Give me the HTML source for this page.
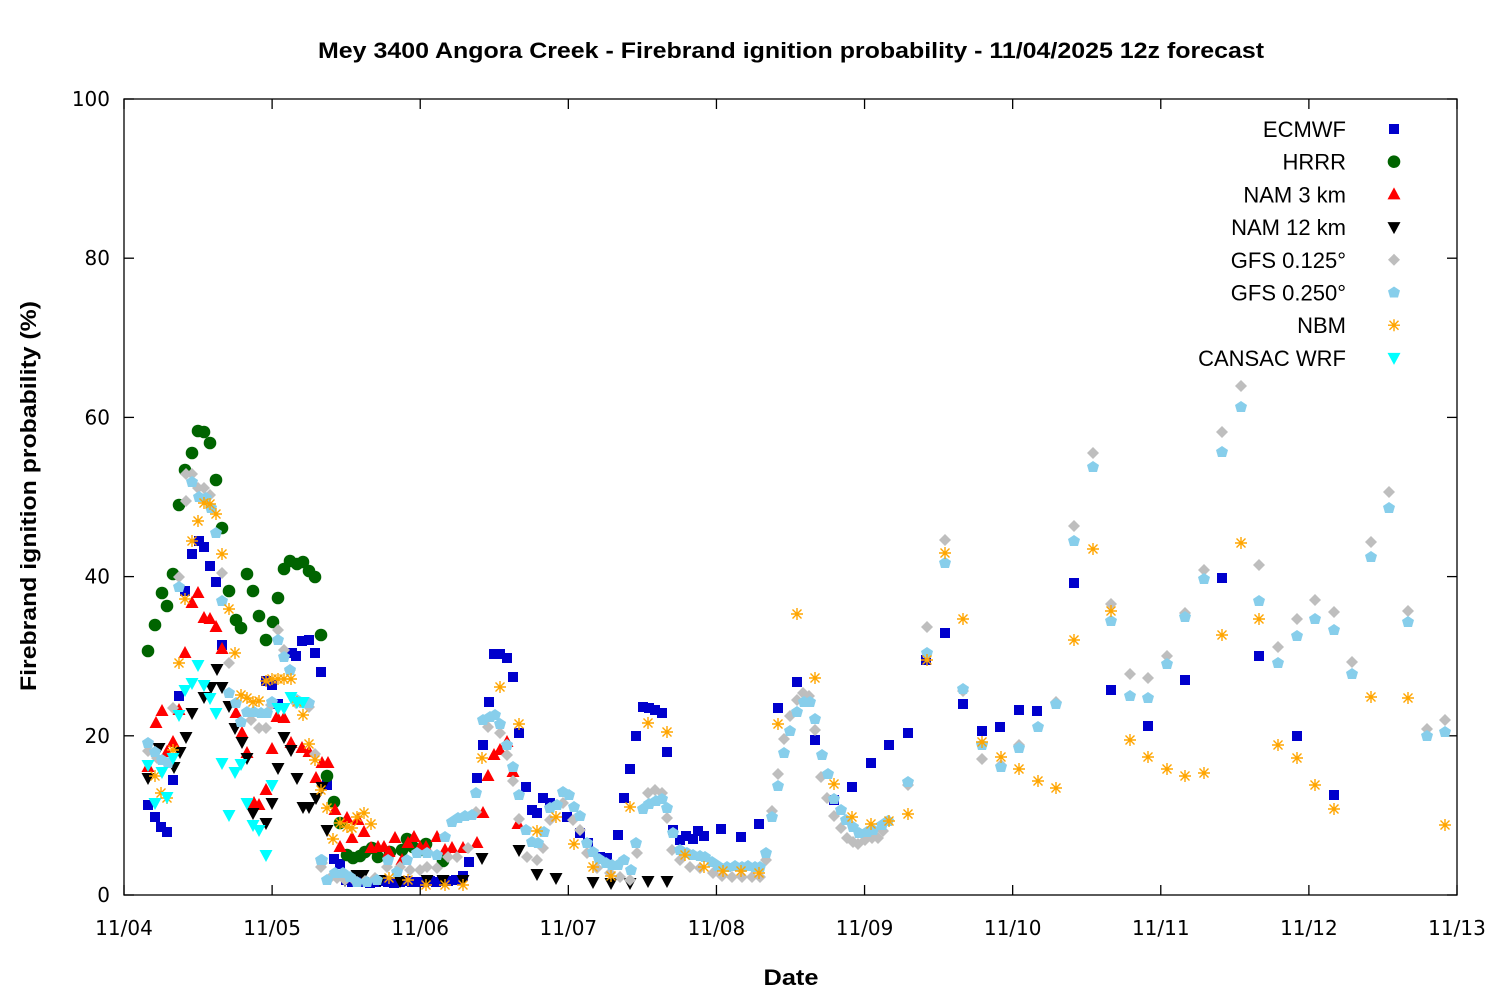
<!DOCTYPE html>
<html><head><meta charset="utf-8"><style>body{margin:0;background:#fff}svg{display:block}text{font-family:"Liberation Sans","DejaVu Sans",sans-serif}#lab text{font-family:"DejaVu Sans",sans-serif}</style></head>
<body>
<svg id="s" width="1500" height="1000" xmlns="http://www.w3.org/2000/svg">
<rect width="1500" height="1000" fill="#fff"/>
<text x="791" y="58" text-anchor="middle" font-size="22" font-weight="bold" textLength="946" lengthAdjust="spacingAndGlyphs">Mey 3400 Angora Creek - Firebrand ignition probability - 11/04/2025 12z forecast</text>
<g id="ax" stroke="#000" stroke-width="1.3" fill="none"></g>
<g id="lab" font-size="20" fill="#000"></g>
<text x="791" y="985" text-anchor="middle" font-size="22" font-weight="bold" textLength="55" lengthAdjust="spacingAndGlyphs">Date</text>
<text transform="translate(36,496) rotate(-90)" text-anchor="middle" font-size="22" font-weight="bold" textLength="390" lengthAdjust="spacingAndGlyphs">Firebrand ignition probability (%)</text>
<g id="pts"></g>
<g id="leg" font-size="22"></g>
</svg>
<script>
var NS="http://www.w3.org/2000/svg";
function el(p,t,a,txt){var e=document.createElementNS(NS,t);for(var k in a)e.setAttribute(k,a[k]);if(txt)e.textContent=txt;document.getElementById(p).appendChild(e);return e;}
var L=124,R=1457,T=99,B=895;
el("ax","rect",{x:L,y:T,width:R-L,height:B-T});
for(var i=0;i<=5;i++){var y=B-i*(B-T)/5;el("ax","line",{x1:L,y1:y,x2:L+10,y2:y});el("ax","line",{x1:R,y1:y,x2:R-10,y2:y});el("lab","text",{x:110,y:y+7,"text-anchor":"end"},String(i*20));}
for(var d=0;d<=9;d++){var x=L+d*(R-L)/9;el("ax","line",{x1:x,y1:B,x2:x,y2:B-10});el("ax","line",{x1:x,y1:T,x2:x,y2:T+10});el("lab","text",{x:x,y:935,"text-anchor":"middle"},"11/"+String(4+d).padStart(2,"0"));}
function mk(p,type,x,y){
 if(type=="sq")el(p,"rect",{x:x-5,y:y-5,width:10,height:10,fill:"#0000cc"});
 else if(type=="ci")el(p,"circle",{cx:x,cy:y,r:6.3,fill:"#006400"});
 else if(type=="up")el(p,"polygon",{points:(x)+","+(y-7)+" "+(x+6.5)+","+(y+5)+" "+(x-6.5)+","+(y+5),fill:"#ff0000"});
 else if(type=="dn"||type=="cy")el(p,"polygon",{points:(x)+","+(y+7)+" "+(x+6.5)+","+(y-5)+" "+(x-6.5)+","+(y-5),fill:type=="dn"?"#000":"#00ffff"});
 else if(type=="di")el(p,"polygon",{points:x+","+(y-6)+" "+(x+6)+","+y+" "+x+","+(y+6)+" "+(x-6)+","+y,fill:"#bebebe"});
 else if(type=="pe")el(p,"polygon",{points:x+","+(y-6)+" "+(x+6)+","+(y-2)+" "+(x+4)+","+(y+5)+" "+(x-4)+","+(y+5)+" "+(x-6)+","+(y-2),fill:"#87ceeb"});
 else if(type=="st"){var g=el(p,"g",{stroke:"#ffa500","stroke-width":1.4});var s="M"+(x-6)+" "+y+"h12M"+x+" "+(y-6)+"v12M"+(x-4.5)+" "+(y-4.5)+"l9 9M"+(x-4.5)+" "+(y+4.5)+"l9 -9";var q=document.createElementNS(NS,"path");q.setAttribute("d",s);g.appendChild(q);}
}
var D={
sq:"148,805 155,817 161,827 167,832 173,780 179,696 185,591 192,554 199,541 204,547 210,566 216,582 222,645 266,681 272,685 278,704 292,653 296,656 302,641 309,640 315,653 321,672 327,785 334,859 340,864 346,880 352,882 358,881 364,882 370,883 376,882 382,881 388,882 394,883 400,882 406,881 412,882 418,882 424,882 430,881 436,882 442,881 448,881 456,880 463,876 469,862 477,778 483,745 489,702 494,654 500,654 507,658 513,677 519,733 526,787 532,810 537,813 543,798 550,803 567,817 580,833 588,843 600,857 607,858 618,835 624,798 630,769 636,736 643,707 649,708 655,710 662,713 667,752 673,830 680,840 686,836 693,839 698,831 704,836 721,829 741,837 759,824 778,708 797,682 815,740 834,800 852,787 871,763 889,745 908,733 926,660 945,633 963,704 982,731 1000,727 1019,710 1037,711 1074,583 1111,690 1148,726 1185,680 1222,578 1259,656 1297,736 1334,795",
ci:"148,651 155,625 162,593 167,606 173,574 179,505 185,470 192,453 198,431 204,432 210,443 216,480 222,528 229,591 236,620 241,628 247,574 253,591 259,616 266,640 273,622 278,598 284,569 290,561 297,564 303,562 309,571 315,577 321,635 327,776 334,802 340,823 347,855 353,858 360,856 365,852 372,848 378,857 390,852 402,850 407,839 413,847 420,850 426,844 443,861",
up:"148,767 156,723 162,711 167,752 173,742 179,710 185,653 192,603 198,593 204,618 210,619 216,627 222,649 236,713 242,733 247,753 254,803 259,805 266,790 272,749 277,717 284,718 291,743 302,748 309,752 316,778 322,763 328,763 335,810 340,847 347,818 352,838 358,820 364,832 371,848 378,847 384,847 389,852 395,838 402,860 408,843 414,837 420,847 426,847 437,837 445,850 452,848 463,848 477,843 483,813 488,776 494,755 500,750 507,742 513,772 518,824",
dn:"148,778 159,748 174,767 180,752 186,737 192,713 204,697 211,687 217,669 222,687 229,706 235,728 242,742 247,758 253,813 266,823 272,803 278,768 284,737 291,750 297,778 303,807 309,807 316,798 322,787 327,830 345,880 357,875 363,875 380,880 400,881 427,880 443,880 463,880 482,858 519,850 537,874 556,878 593,882 611,883 630,883 648,881 667,881",
di:"148,751 157,758 173,708 179,577 186,474 186,501 192,474 198,488 204,488 210,495 222,573 229,663 251,720 259,728 266,728 271,705 278,630 284,650 290,670 296,703 309,707 315,754 322,863 321,867 330,878 337,878 345,880 355,881 365,881 375,878 387,867 400,867 410,870 420,870 427,867 437,868 448,857 457,857 468,848 476,812 488,727 500,733 507,755 513,781 519,819 527,857 537,860 543,848 550,820 563,803 573,820 580,830 587,853 597,868 610,873 620,877 630,880 637,853 648,793 655,790 662,793 667,818 672,850 680,860 690,867 700,868 713,873 722,876 732,877 742,877 752,877 760,877 766,860 772,811 778,774 784,739 790,716 797,700 803,693 809,696 815,730 821,777 827,798 834,816 841,828 847,838 853,842 858,844 865,840 872,838 878,838 883,831 908,785 927,627 945,540 963,691 982,759 1001,765 1019,745 1056,702 1074,526 1093,453 1111,604 1130,674 1148,678 1167,656 1185,613 1204,570 1222,432 1241,386 1259,565 1278,647 1297,619 1315,600 1334,612 1352,662 1371,542 1389,492 1408,611 1427,729 1445,720",
pe:"148,743 155,752 162,760 168,763 179,587 192,482 199,497 206,498 211,508 216,533 222,601 229,693 236,703 241,722 247,712 254,712 261,713 267,713 272,702 278,640 284,657 290,670 297,700 303,703 309,703 322,860 321,860 327,880 335,873 343,873 350,877 357,882 367,882 377,880 388,860 397,872 407,860 417,853 427,853 437,855 445,837 452,822 458,818 465,816 472,815 476,793 483,720 490,717 495,715 500,724 507,745 513,767 519,795 526,830 532,842 538,843 544,832 550,808 557,805 563,792 569,795 574,807 580,816 587,843 593,852 599,859 606,863 612,865 618,865 624,860 631,870 636,843 643,809 649,804 656,801 662,799 667,808 673,833 680,850 687,853 693,855 700,856 705,857 712,862 718,866 727,867 735,866 742,867 748,866 755,867 760,867 766,853 772,817 778,786 784,753 790,731 797,712 804,702 810,702 815,719 822,755 828,774 834,799 841,810 846,820 853,827 859,833 867,832 873,830 882,825 888,821 908,782 927,653 945,563 963,689 982,745 1001,767 1019,748 1038,727 1056,704 1074,541 1093,467 1111,621 1130,696 1148,698 1167,664 1185,617 1204,579 1222,452 1241,407 1259,601 1278,663 1297,636 1315,619 1334,630 1352,674 1371,557 1389,508 1408,622 1427,736 1445,732",
st:"155,776 161,793 167,798 173,750 179,663 185,599 192,541 198,521 204,503 210,504 216,514 222,554 229,609 235,653 241,695 247,698 253,702 259,701 266,681 272,679 278,679 284,679 291,679 297,702 303,715 309,744 315,760 321,790 327,808 333,839 340,823 347,827 352,828 357,817 364,813 371,824 389,878 408,880 426,885 445,885 463,885 482,758 500,687 519,724 537,831 556,817 574,844 593,867 611,876 630,807 648,723 667,732 685,855 704,867 723,871 741,871 759,873 778,724 797,614 815,678 834,784 852,817 871,824 889,821 908,814 927,660 945,553 963,619 982,742 1001,757 1019,769 1038,781 1056,788 1074,640 1093,549 1111,611 1130,740 1148,757 1167,769 1185,776 1204,773 1222,635 1241,543 1259,619 1278,745 1297,758 1315,785 1334,809 1371,697 1408,698 1445,825",
cy:"148,765 155,803 162,772 167,797 173,758 179,715 185,690 192,683 198,665 204,685 210,698 216,713 222,763 229,815 235,772 241,764 247,803 253,825 259,830 266,855 272,785 278,708 284,708 291,697 297,702 303,702"
};
["sq","ci","up","dn","di","pe","st","cy"].forEach(function(t){D[t].split(" ").forEach(function(p){var c=p.split(",");mk("pts",t,+c[0],+c[1]);});});
var names=[["ECMWF","sq"],["HRRR","ci"],["NAM 3 km","up"],["NAM 12 km","dn"],["GFS 0.125°","di"],["GFS 0.250°","pe"],["NBM","st"],["CANSAC WRF","cy"]];
names.forEach(function(n,i){var y=129+i*32.7;el("leg","text",{x:1346,y:y+8,"text-anchor":"end"},n[0]);mk("leg",n[1],1394,y);});
</script>
</body></html>
